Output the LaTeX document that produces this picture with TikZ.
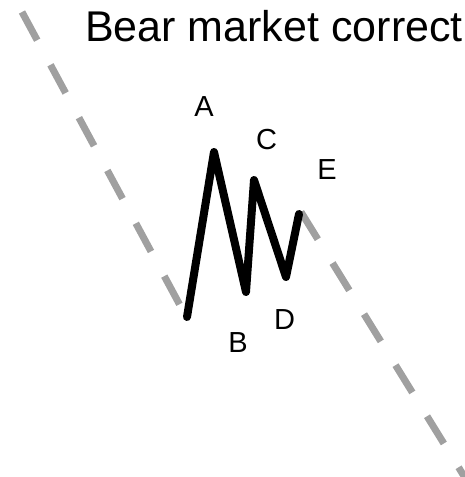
\documentclass[tikz,border=0pt]{standalone}
\usepackage{fontspec}
\setmainfont{Liberation Sans}
\definecolor{trendgray}{HTML}{A0A0A0}
\tikzset{
  trendline/.style={draw=trendgray, line width=7pt, dash pattern=on 32pt off 28pt, line cap=butt},
  wave/.style={draw=black, line width=8pt, line cap=round, line join=round},
  wavelabel/.style={inner sep=0pt, anchor=base, font=\fontsize{29}{29}\selectfont},
  titlelabel/.style={inner sep=0pt, anchor=base west, font=\fontsize{43}{43}\selectfont}
}
\begin{document}
\begin{tikzpicture}[x=1pt, y=-1pt]
\useasboundingbox (0,0) rectangle (464,477);
% trend lines
\coordinate (L1) at (22,12);
\coordinate (L2) at (182,309);
\coordinate (R1) at (301,212);
\coordinate (R2) at (467,481);
\draw[trendline] (L1) -- (L2);
\draw[trendline] (R1) -- (R2);
% wave points
\coordinate (p0) at (187,317);
\coordinate (pA) at (214,152);
\coordinate (pB) at (246,292);
\coordinate (pC) at (254,180);
\coordinate (pD) at (286,277);
\coordinate (pE) at (299,214);
\draw[wave] (p0) -- (pA) -- (pB) -- (pC) -- (pD) -- (pE);
% labels
\node[wavelabel] (lA) at (204,116) {A};
\node[wavelabel] (lB) at (238,352) {B};
\node[wavelabel] (lC) at (266.5,149) {C};
\node[wavelabel] (lD) at (284.5,329) {D};
\node[wavelabel] (lE) at (327,179) {E};
\node[titlelabel] (title) at (85,41) {Bear market correct};
\end{tikzpicture}
\end{document}
